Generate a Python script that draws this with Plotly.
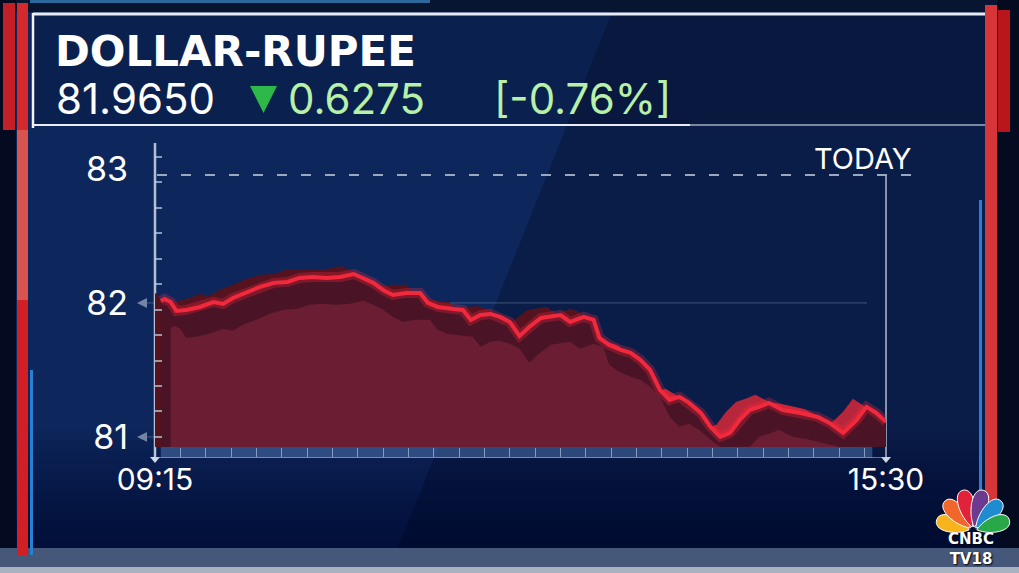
import math
import pandas as pd
import plotly.graph_objects as go

W, H = 1019, 573
DAY = "2022-11-11 "

# ---------------- data ----------------
times = ["09:18", "09:20", "09:23", "09:26", "09:31", "09:38", "09:45", "09:50", "09:55",
         "10:02", "10:09", "10:16", "10:23", "10:29", "10:36", "10:43", "10:50", "10:57",
         "11:02", "11:07", "11:12", "11:17", "11:24", "11:31", "11:35", "11:40", "11:48", "11:53", "11:57",
         "12:02", "12:07", "12:12", "12:17", "12:22", "12:27", "12:33", "12:43", "12:48", "12:55",
         "13:00", "13:03", "13:08", "13:14", "13:19", "13:24", "13:29", "13:34", "13:39", "13:44", "13:49", "13:55",
         "14:00", "14:05", "14:10", "14:15", "14:20", "14:25", "14:30", "14:37", "14:46", "14:55",
         "15:01", "15:08", "15:15", "15:20", "15:25", "15:30"]
values = [82.015, 82.030, 82.007, 81.940, 81.948, 81.970, 82.007, 81.993, 82.037,
          82.075, 82.120, 82.150, 82.157, 82.187, 82.194, 82.187, 82.194, 82.216,
          82.187, 82.150, 82.097, 82.060, 82.075, 82.075, 82.000, 81.970, 81.955, 81.948, 81.873,
          81.910, 81.918, 81.896, 81.858, 81.754, 81.821, 81.888, 81.910, 81.858, 81.896,
          81.873, 81.739, 81.687, 81.649, 81.627, 81.575, 81.500, 81.351, 81.276, 81.299, 81.254, 81.179,
          81.075, 81.000, 81.030, 81.127, 81.201, 81.224, 81.254, 81.201, 81.179, 81.149,
          81.104, 81.030, 81.127, 81.224, 81.179, 81.112]
session_start = "09:15"
session_end = "15:30"
y_ticks = [81, 82, 83]
today_level = 82.955
area_base = 80.925
title_text = "DOLLAR-RUPEE"
last_price = "81.9650"
change_abs = "0.6275"
change_pct = "[-0.76%]"
today_label = "TODAY"
logo_text = "CNBC<br>TV18"

# ---------------- helpers ----------------
def X(px):
    return px / W

def Y(py):
    return 1 - py / H

x_dt = pd.to_datetime([DAY + t for t in times])
t0 = pd.Timestamp(DAY + session_start)
t1 = pd.Timestamp(DAY + session_end)

# 3D extrusion style offsets
FACE_LAG = pd.Timedelta(minutes=5)
FACE_DROP = 0.20
BACK_LEAD = pd.Timedelta(minutes=7)
BACK_RISE = 0.06
LIGHT_SPLIT = pd.Timestamp(DAY + "13:00")
FACE_END = pd.Timestamp(DAY + "15:23")

def polygon(xs, ys, base):
    xs = list(xs)
    ys = list(ys)
    return xs + [xs[-1], xs[0], xs[0]], ys + [base, base, ys[0]]

fig = go.Figure()

# back (top surface) copy: dark in the morning, lit in the afternoon
bx = [t - BACK_LEAD for t in x_dt]
by = [v + BACK_RISE for v in values]
early = [(a, b) for a, b in zip(bx, by) if a <= LIGHT_SPLIT]
late = [(a, b) for a, b in zip(bx, by) if a >= LIGHT_SPLIT - pd.Timedelta(minutes=6)]
for seg, col in ((early, "#55121f"), (late, "#b7263a")):
    px_, py_ = polygon([s[0] for s in seg], [s[1] for s in seg], area_base)
    fig.add_trace(go.Scatter(x=px_, y=py_, fill="toself", fillcolor=col,
                             line=dict(width=0), mode="lines", hoverinfo="skip"))
# main dark body
px_, py_ = polygon(x_dt, values, area_base)
fig.add_trace(go.Scatter(x=px_, y=py_, fill="toself", fillcolor="#4a1426",
                         line=dict(width=0), mode="lines", hoverinfo="skip"))
# front face
fx, fy = [], []
for t, v in zip(x_dt, values):
    tt = t + FACE_LAG
    if tt <= FACE_END:
        fx.append(tt)
        fy.append(max(v - FACE_DROP, area_base))
px_, py_ = polygon(fx, fy, area_base)
fig.add_trace(go.Scatter(x=px_, y=py_, fill="toself", fillcolor="#6b1d33",
                         line=dict(width=0), mode="lines", hoverinfo="skip"))
# glow + line
fig.add_trace(go.Scatter(x=x_dt, y=values, mode="lines",
                         line=dict(color="rgba(255,40,60,0.28)", width=10), hoverinfo="skip"))
fig.add_trace(go.Scatter(x=x_dt, y=values, mode="lines",
                         line=dict(color="#f2283c", width=4), hoverinfo="skip"))

# ---------------- decorations ----------------
shapes = []

def rect(x0, y0, x1, y1, color, layer="below"):
    shapes.append(dict(type="rect", xref="paper", yref="paper",
                       x0=X(x0), x1=X(x1), y0=Y(y0), y1=Y(y1),
                       fillcolor=color, line=dict(width=0), layer=layer))

def pline(x0, y0, x1, y1, color, width, dash=None, layer="below"):
    d = dict(type="line", xref="paper", yref="paper", x0=X(x0), x1=X(x1),
             y0=Y(y0), y1=Y(y1), line=dict(color=color, width=width), layer=layer)
    if dash:
        d["line"]["dash"] = dash
    shapes.append(d)

def ppath(pts, color, layer="below"):
    s = "M " + " L ".join(f"{X(a):.5f},{Y(b):.5f}" for a, b in pts) + " Z"
    shapes.append(dict(type="path", xref="paper", yref="paper", path=s,
                       fillcolor=color, line=dict(width=0), layer=layer))

# background: lighter diagonal panel on the left
ppath([(15, 0), (617, 0), (388, 573), (15, 573)], "rgba(25,70,150,0.25)")
# smooth darkening toward bottom
for k in range(12):
    rect(0, 430 + k * 10, W, 548, "rgba(2,8,28,0.06)")
# bottom bands
rect(0, 548, W, 567, "#46587a")
rect(0, 567, W, 573, "#aab2c0")
# top strip
rect(0, 0, W, 12, "#071531")
rect(30, 0, 430, 3, "rgba(70,160,230,0.6)")
# header darker panel
rect(33, 15, 985, 125, "rgba(4,12,35,0.25)")
# edge strips
rect(0, 0, 16, 548, "#040b20")
rect(997, 0, W, 548, "#040b20")
# left red bars
rect(3, 3, 15, 130, "#c21f26")
rect(17, 3, 28, 300, "#d9534f")
rect(17, 3, 28, 130, "#d42a2e")
rect(17, 300, 28, 555, "#d21e25")
rect(30, 370, 33, 555, "#2a7fd0")
# right bars
rect(985, 5, 997, 520, "#d6353a")
rect(998, 10, 1010, 132, "#b8161c")
rect(979, 200, 982, 520, "#2a7fd0")
# header lines
pline(33, 14, 985, 14, "#e8edf5", 3)
pline(33, 125, 690, 125, "#e8edf5", 2)
pline(690, 125, 985, 125, "rgba(200,210,225,0.6)", 2)
pline(33, 13, 33, 128, "#f0f2f6", 2.5)
# green triangle
ppath([(250, 86), (277, 86), (263.5, 113)], "#2fb84a")

# axis lines
pline(155, 143, 155, 458, "rgba(210,218,232,0.85)", 2.5)
ppath([(150, 457), (160, 457), (155, 463)], "rgba(230,235,245,0.9)")
pline(886, 176, 886, 458, "rgba(220,226,236,0.8)", 1.5)
ppath([(881, 457), (891, 457), (886, 463)], "rgba(230,235,245,0.9)")
# bottom band of the x axis
shapes.append(dict(type="rect", xref="x", yref="paper", x0=x_dt[0], x1=FACE_END,
                   y0=Y(458), y1=Y(447), fillcolor="rgba(90,130,190,0.45)",
                   line=dict(width=0), layer="below"))
# horizontal level lines at 82 and 81
for lv in (82, 81):
    shapes.append(dict(type="line", xref="paper", yref="y", x0=X(147), x1=X(867), y0=lv, y1=lv,
                       line=dict(color="rgba(200,210,230,0.3)", width=1), layer="below"))
    s = f"M {X(137):.5f},{lv} L {X(147):.5f},{lv + 0.037} L {X(147):.5f},{lv - 0.037} Z"
    shapes.append(dict(type="path", xref="paper", yref="y", path=s,
                       fillcolor="rgba(160,175,200,0.7)", line=dict(width=0), layer="below"))
# TODAY dashed reference line
shapes.append(dict(type="line", xref="paper", yref="y", x0=X(157), x1=X(915),
                   y0=today_level, y1=today_level,
                   line=dict(color="#9aa8c0", width=2, dash="10px,14px"), layer="below"))

# CNBC peacock
B = (973.0, 531.0)
feathers = [(163, 38, "#f7b51b"), (133, 41, "#f1662a"), (104, 42, "#e0223b"),
            (76, 42, "#6c3a8f"), (47, 41, "#1f8bd1"), (17, 38, "#29a84a")]
for ang, L, col in feathers:
    a = math.radians(ang)
    d = (math.cos(a), -math.sin(a))
    n = (math.sin(a), math.cos(a))
    w = 12.0
    b0 = (B[0] + d[0] * 4, B[1] + d[1] * 4)
    T = (B[0] + d[0] * L, B[1] + d[1] * L)
    c1 = (b0[0] + d[0] * 0.3 * L + n[0] * w * 0.8, b0[1] + d[1] * 0.3 * L + n[1] * w * 0.8)
    c2 = (T[0] + n[0] * w, T[1] + n[1] * w)
    c3 = (T[0] - n[0] * w, T[1] - n[1] * w)
    c4 = (b0[0] + d[0] * 0.3 * L - n[0] * w * 0.8, b0[1] + d[1] * 0.3 * L - n[1] * w * 0.8)
    f = lambda p: f"{X(p[0]):.5f},{Y(p[1]):.5f}"
    s = f"M {f(b0)} C {f(c1)} {f(c2)} {f(T)} C {f(c3)} {f(c4)} {f(b0)} Z"
    shapes.append(dict(type="path", xref="paper", yref="paper", path=s, fillcolor=col,
                       line=dict(color="white", width=1), layer="above"))

# ---------------- text ----------------
ann = []

def text(x, y, s, size, color="white", family="Inter", anchor="left", shadow=None):
    fnt = dict(family=family, size=size, color=color)
    if shadow:
        fnt["shadow"] = shadow
    ann.append(dict(x=X(x), y=Y(y), xref="paper", yref="paper", text=s, showarrow=False,
                    xanchor=anchor, yanchor="middle", font=fnt))

text(53, 51, f"<b>{title_text}</b>", 42, family="DejaVu Sans")
text(54, 98, last_price, 42)
text(286, 98, change_abs, 42, color="#b8f0a8")
text(492, 98, change_pct, 42, color="#b8f0a8")
text(863, 158, today_label, 29, anchor="center")
ann.append(dict(x=X(971), y=Y(549), xref="paper", yref="paper", text=f"<b>{logo_text}</b>",
                showarrow=False, xanchor="center", yanchor="middle",
                font=dict(family="DejaVu Sans", size=15, color="white",
                          shadow="1px 1px 2px black")))

fig.update_layout(
    template="none",
    width=W, height=H, autosize=False,
    margin=dict(l=0, r=0, t=0, b=0, pad=0, autoexpand=False),
    paper_bgcolor="#0a1d49", plot_bgcolor="rgba(0,0,0,0)",
    showlegend=False, hovermode=False,
    shapes=shapes, annotations=ann,
    xaxis=dict(type="date", domain=[X(155), X(886)], range=[t0, t1], automargin=False,
               tickvals=[t0, t1], ticktext=[session_start, session_end],
               tickfont=dict(family="Inter", size=30, color="white"),
               ticks="", ticklabelstandoff=-4,
               showgrid=False, zeroline=False,
               showline=True, linecolor="rgba(170,190,225,0.55)", linewidth=1,
               minor=dict(ticks="inside", dtick=13 * 60 * 1000, tick0=t0, ticklen=9,
                          tickcolor="rgba(190,210,235,0.6)", tickwidth=1, showgrid=False)),
    yaxis=dict(domain=[Y(457), Y(142.2)], range=[80.85, 83.2], automargin=False,
               tickvals=y_ticks, ticktext=[str(v) for v in y_ticks],
               tickfont=dict(family="Inter", size=34, color="white"),
               ticks="", ticklabelstandoff=26,
               showgrid=False, zeroline=False, showline=False,
               minor=dict(ticks="inside", dtick=0.19, tick0=81.95, ticklen=7,
                          tickcolor="rgba(190,205,230,0.7)", tickwidth=1.5, showgrid=False)),
)

fig.write_html("out.html", config={"displayModeBar": False},
               post_script="document.body.style.margin='0';document.body.style.overflow='hidden';")
